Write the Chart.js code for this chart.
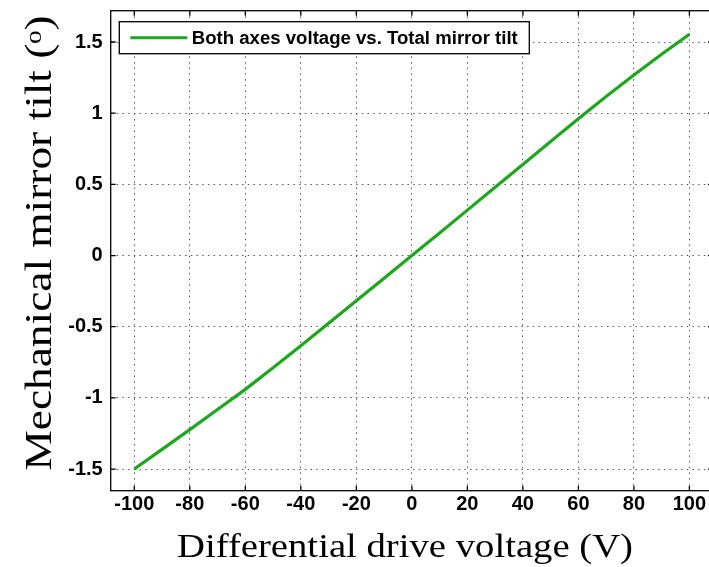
<!DOCTYPE html>
<html>
<head>
<meta charset="utf-8">
<script src="https://cdn.jsdelivr.net/npm/chart.js@4"></script>
<style>
html, body { margin: 0; padding: 0; background: #fff; overflow: hidden; }
canvas { display: block; }
</style>
</head>
<body>
<canvas id="tiltChart" width="720" height="567"></canvas>
<script>
// data
const voltage = [-100, -90, -80, -70, -60, -50, -40, -30, -20, -10, 0, 10, 20, 30, 40, 50, 60, 70, 80, 90, 100];
const tilt = [-1.50, -1.362, -1.223, -1.082, -0.94, -0.789, -0.633, -0.476, -0.318, -0.159, 0.0, 0.159, 0.319, 0.479, 0.64, 0.801, 0.961, 1.117, 1.268, 1.414, 1.555];
const xTicks = [-100, -80, -60, -40, -20, 0, 20, 40, 60, 80, 100];
const yTicks = [-1.5, -1, -0.5, 0, 0.5, 1, 1.5];
const seriesLabel = 'Both axes voltage vs. Total mirror tilt';
const xTitle = 'Differential drive voltage (V)';
const yTitle = 'Mechanical mirror tilt (\u1D52)';

const tickFont = { family: 'Arial, sans-serif', weight: 'bold', size: 20 };
const gridStyle = { color: 'rgba(60,60,60,0.85)', lineWidth: 1, drawTicks: false };
const serif = '"Liberation Serif", "Times New Roman", serif';

// text stretched along its reading direction to a given length
function stretchedText(ctx, text, font, length) {
    ctx.font = font;
    const k = length / ctx.measureText(text).width;
    ctx.scale(k, 1);
    ctx.fillText(text, 0, 0);
}

// box round the plot, inward ticks, boxed legend, axis titles
const frameBox = {
    id: 'frameBox',
    afterDraw(chart) {
        const { ctx, chartArea: a, scales: { x, y } } = chart;
        ctx.save();
        ctx.strokeStyle = '#000';
        ctx.lineWidth = 1.3;
        ctx.strokeRect(a.left, a.top, a.right - a.left, a.bottom - a.top);
        ctx.beginPath();
        xTicks.forEach(v => {
            const px = x.getPixelForValue(v);
            ctx.moveTo(px, a.bottom); ctx.lineTo(px, a.bottom - 5);
            ctx.moveTo(px, a.top); ctx.lineTo(px, a.top + 5);
        });
        yTicks.forEach(v => {
            const py = y.getPixelForValue(v);
            ctx.moveTo(a.left, py); ctx.lineTo(a.left + 5, py);
            ctx.moveTo(a.right, py); ctx.lineTo(a.right - 5, py);
        });
        ctx.stroke();

        // legend
        const ds = chart.data.datasets[0];
        const lx = a.left + 8.6, ly = a.top + 11, lw = 410, lh = 32;
        ctx.fillStyle = '#fff';
        ctx.fillRect(lx, ly, lw, lh);
        ctx.lineWidth = 1.3;
        ctx.strokeRect(lx, ly, lw, lh);
        ctx.strokeStyle = ds.borderColor;
        ctx.lineWidth = 3;
        ctx.beginPath();
        ctx.moveTo(lx + 11, ly + lh / 2);
        ctx.lineTo(lx + 68, ly + lh / 2);
        ctx.stroke();
        ctx.fillStyle = '#000';
        ctx.textBaseline = 'middle';
        ctx.save();
        ctx.translate(lx + 72.5, ly + lh / 2 + 1);
        stretchedText(ctx, ds.label, 'bold 17.5px Arial, sans-serif', 326);
        ctx.restore();

        // axis titles
        ctx.textBaseline = 'alphabetic';
        ctx.textAlign = 'center';
        ctx.save();
        ctx.translate(405, 557);
        stretchedText(ctx, xTitle, '33px ' + serif, 456);
        ctx.restore();
        ctx.save();
        ctx.translate(51, 243);
        ctx.rotate(-Math.PI / 2);
        stretchedText(ctx, yTitle, '38px ' + serif, 455);
        ctx.restore();
        ctx.restore();
    }
};

new Chart(document.getElementById('tiltChart'), {
    type: 'line',
    data: {
        labels: voltage,
        datasets: [{
            label: seriesLabel,
            data: voltage.map((v, i) => ({ x: v, y: tilt[i] })),
            borderColor: '#1fa61f',
            borderWidth: 3.2,
            pointRadius: 0,
            tension: 0,
            fill: false
        }]
    },
    options: {
        responsive: false,
        animation: false,
        devicePixelRatio: 1,
        layout: { padding: { top: 10.7, right: 7, left: 0, bottom: 0 } },
        plugins: { legend: { display: false }, tooltip: { enabled: false } },
        scales: {
            x: {
                type: 'linear',
                min: -108.5,
                max: 108.5,
                afterBuildTicks: s => { s.ticks = xTicks.map(v => ({ value: v })); },
                afterFit: s => { s.height = 76.3; s.paddingLeft = 0; s.paddingRight = 0; },
                grid: { ...gridStyle },
                border: { display: false, dash: [1.5, 4.2] },
                ticks: { color: '#000', font: tickFont, padding: 2, maxRotation: 0, autoSkip: false }
            },
            y: {
                type: 'linear',
                min: -1.652,
                max: 1.72,
                afterBuildTicks: s => { s.ticks = yTicks.map(v => ({ value: v })); },
                afterFit: s => { s.width = 110.7; s.paddingTop = 0; s.paddingBottom = 0; },
                grid: { ...gridStyle },
                border: { display: false, dash: [1.5, 4.2] },
                ticks: { color: '#000', font: tickFont, padding: 8, autoSkip: false, callback: v => String(v) }
            }
        }
    },
    plugins: [frameBox]
});
</script>
</body>
</html>
